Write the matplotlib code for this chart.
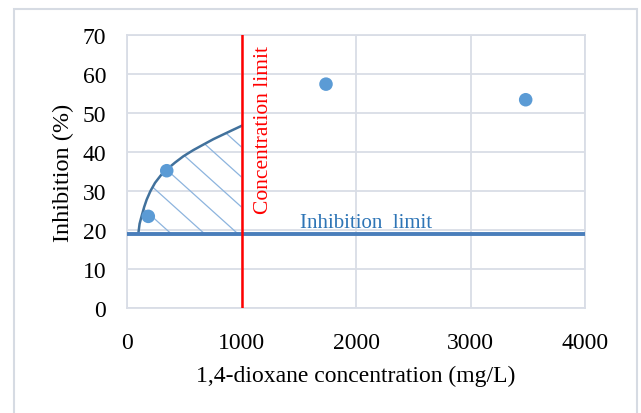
import matplotlib.pyplot as plt
import matplotlib.patches as mpatches
import numpy as np

plt.rcParams['font.family'] = ['Liberation Serif', 'DejaVu Serif']

# Measured points.
conc = [186, 347, 1738, 3482]
inhibition = [23.5, 35.2, 57.4, 53.4]

# Hand-drawn curve.
curve_x = [99, 110, 128, 150, 172, 205, 245, 295, 347, 420, 492, 580, 667, 755, 841, 920, 1000]
curve_y = [19.1, 21.6, 23.6, 25.9, 27.8, 30.0, 32.1, 34.0, 35.5, 37.3, 38.9, 40.5, 41.9, 43.3, 44.5, 45.6, 46.7]

inhibition_limit = 19.1
concentration_limit = 1000

x_ticks = [0, 1000, 2000, 3000, 4000]
y_ticks = [0, 10, 20, 30, 40, 50, 60, 70]

grid_color = '#d9dde6'

figure = plt.figure(figsize=(6.41, 4.14), dpi=100)
axes = figure.add_axes([127 / 641, 1 - 309 / 414, 458 / 641, 273 / 414])

# Outer frame of the chart.
figure.patches.append(mpatches.Rectangle(
    (14 / 641, -0.1), 623 / 641, 1.1 - 10 / 414,
    transform=figure.transFigure, fill=False,
    edgecolor='#d6dbe3', linewidth=1.5))

# Hatched region under the curve.
poly_x = curve_x + [concentration_limit, curve_x[0]]
poly_y = curve_y + [inhibition_limit, inhibition_limit]
region = mpatches.Polygon(np.column_stack([poly_x, poly_y]),
                          closed=True, facecolor='none', edgecolor='none')
axes.add_patch(region)
for offset in np.arange(-2.0, 2.0, 30 / 273):
    fx = np.array([0, 1])
    fy = offset - (458 / 273) * fx * 0.9
    hatch_line, = axes.plot(fx, fy, transform=axes.transAxes,
                            color='#8db4de', linewidth=0.9, zorder=2)
    hatch_line.set_clip_path(region)

axes.plot(curve_x, curve_y, color='#41719c', linewidth=1.8, zorder=3)
axes.plot([0, 4000], [inhibition_limit, inhibition_limit],
          color='#4a7ebb', linewidth=2.8, zorder=3)
axes.plot([concentration_limit, concentration_limit], [0, 70],
          color='#ff0000', linewidth=1.8, zorder=4)
axes.scatter(conc, inhibition, s=95, color='#5b9bd5', zorder=5,
             edgecolors='none')

axes.text(1190, 46.0, 'Concentration limit', rotation=90, color='#ff0000',
          fontsize=15.5, ha='center', va='center')
axes.text(1510, 22.0, 'Inhibition  limit', color='#2e75b6',
          fontsize=15, ha='left', va='center')

axes.set_xlim(0, 4000)
axes.set_ylim(0, 70)
axes.set_xticks(x_ticks)
axes.set_yticks(y_ticks)
axes.tick_params(axis='x', length=0, labelsize=17, pad=17)
axes.tick_params(axis='y', length=0, labelsize=17, pad=15)
axes.grid(True, color=grid_color, linewidth=1.3)
axes.set_axisbelow(True)
for spine in axes.spines.values():
    spine.set_color(grid_color)
    spine.set_linewidth(1.3)

axes.set_xlabel('1,4-dioxane concentration (mg/L)', fontsize=17, labelpad=9)
axes.set_ylabel('Inhibition (%)', fontsize=17.5, labelpad=6)

figure.savefig('out.png', dpi=100)
